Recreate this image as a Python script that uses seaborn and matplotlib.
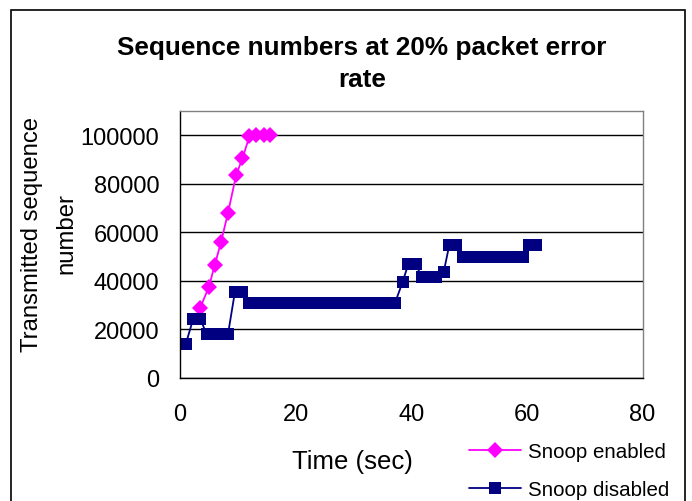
import numpy as np
import pandas as pd
import matplotlib
matplotlib.use("Agg")
import matplotlib.pyplot as plt
from matplotlib.patches import Rectangle
import seaborn as sns

# Snoop enabled series (time in sec, sequence number)
enabled_time = [3.5, 5.0, 6.0, 7.1, 8.3, 9.7, 10.8, 12.0, 13.2, 14.6, 15.6]
enabled_seq = [29000, 37500, 46500, 56000, 68000, 83500, 90500, 99500, 100000, 100000, 100000]

# Snoop disabled series
disabled_time = [1.0, 2.3, 3.5, 4.6, 5.8, 7.0, 8.3, 9.5, 10.8,
                 12.0, 13.2, 14.4, 15.6, 16.8, 18.0, 19.2, 20.4, 21.6, 22.8, 24.0,
                 25.2, 26.4, 27.6, 28.8, 30.0, 31.2, 32.4, 33.6, 34.8, 36.0, 37.2,
                 38.5, 39.5, 40.8, 41.8, 43.0, 44.3, 45.6, 46.6, 47.8,
                 49.0, 50.2, 51.4, 52.6, 53.8, 55.0, 56.2, 57.4, 58.6, 59.3,
                 60.3, 61.5]
disabled_seq = [14000, 24500, 24500, 18000, 18000, 18000, 18000, 35500, 35500,
                31000, 31000, 31000, 31000, 31000, 31000, 31000, 31000, 31000, 31000, 31000,
                31000, 31000, 31000, 31000, 31000, 31000, 31000, 31000, 31000, 31000, 31000,
                39500, 47000, 47000, 41500, 41500, 41500, 43500, 55000, 55000,
                50000, 50000, 50000, 50000, 50000, 50000, 50000, 50000, 50000, 50000,
                55000, 55000]

x_ticks = [0, 20, 40, 60, 80]
y_ticks = [0, 20000, 40000, 60000, 80000, 100000]

sns.set_style("white")
plt.rcParams['font.family'] = ['Liberation Sans', 'DejaVu Sans']
plt.rcParams['text.color'] = 'black'
plt.rcParams['xtick.color'] = 'black'
plt.rcParams['ytick.color'] = 'black'

W, H = 692, 502
fig = plt.figure(figsize=(W / 100, H / 100), dpi=100)

# plot area placed in pixel terms
left, right, top, bottom = 180, 642.5, 112, 379
ax = fig.add_axes([left / W, 1 - bottom / H, (right - left) / W, (bottom - top) / H])

sns.lineplot(x=enabled_time, y=enabled_seq, ax=ax, color='#FF00FF', marker='D',
             markersize=8, markeredgewidth=0, linewidth=1.3, label='Snoop enabled', legend=False)
sns.lineplot(x=disabled_time, y=disabled_seq, ax=ax, color='#000080', marker='s',
             markersize=8.5, markeredgewidth=0, linewidth=1.3, label='Snoop disabled', legend=False)

ax.set_xlim(0, 80)
ax.set_ylim(0, 110000)
ax.set_xticks(x_ticks)
ax.set_yticks(y_ticks)
ax.set_xticklabels([str(t) for t in x_ticks])
ax.set_yticklabels([str(t) for t in y_ticks])
ax.tick_params(axis='both', labelsize=17, direction='out', length=6, width=1,
               color='black', labelcolor='black')
ax.tick_params(axis='x', pad=12)
ax.tick_params(axis='y', pad=9)
ax.yaxis.grid(True, color='black', linewidth=1)
ax.set_axisbelow(True)

for side in ['top', 'right']:
    ax.spines[side].set_color('#808080')
for side in ['left', 'bottom']:
    ax.spines[side].set_color('black')
for s in ax.spines.values():
    s.set_linewidth(1)

ax.set_xlabel('')
ax.set_ylabel('')

fig.text(362 / W, 1 - 64 / H, 'Sequence numbers at 20% packet error\nrate', ha='center', va='center',
         fontsize=18.8, fontweight='bold', linespacing=1.45)
fig.text(49 / W, 1 - 234 / H, 'Transmitted sequence\nnumber', ha='center', va='center',
         rotation=90, fontsize=17.2, linespacing=1.7)
fig.text(352 / W, 1 - 462 / H, 'Time (sec)', ha='center', va='center', fontsize=18.5)

handles, labels = ax.get_legend_handles_labels()
fig.legend(handles, labels, loc='upper left', bbox_to_anchor=(469 / W, 1 - 443 / H),
           frameon=False, fontsize=14.8, handlelength=2.55, labelspacing=0.92, handletextpad=0.3,
           borderaxespad=0, borderpad=0, labelcolor='black')

# outer chart frame
fig.patches.append(Rectangle((11 / W, -0.1), (685 - 11) / W, 1.1 - 11 / H, transform=fig.transFigure,
                             fill=False, edgecolor='black', linewidth=1.2))

fig.savefig('out.png', dpi=100)
